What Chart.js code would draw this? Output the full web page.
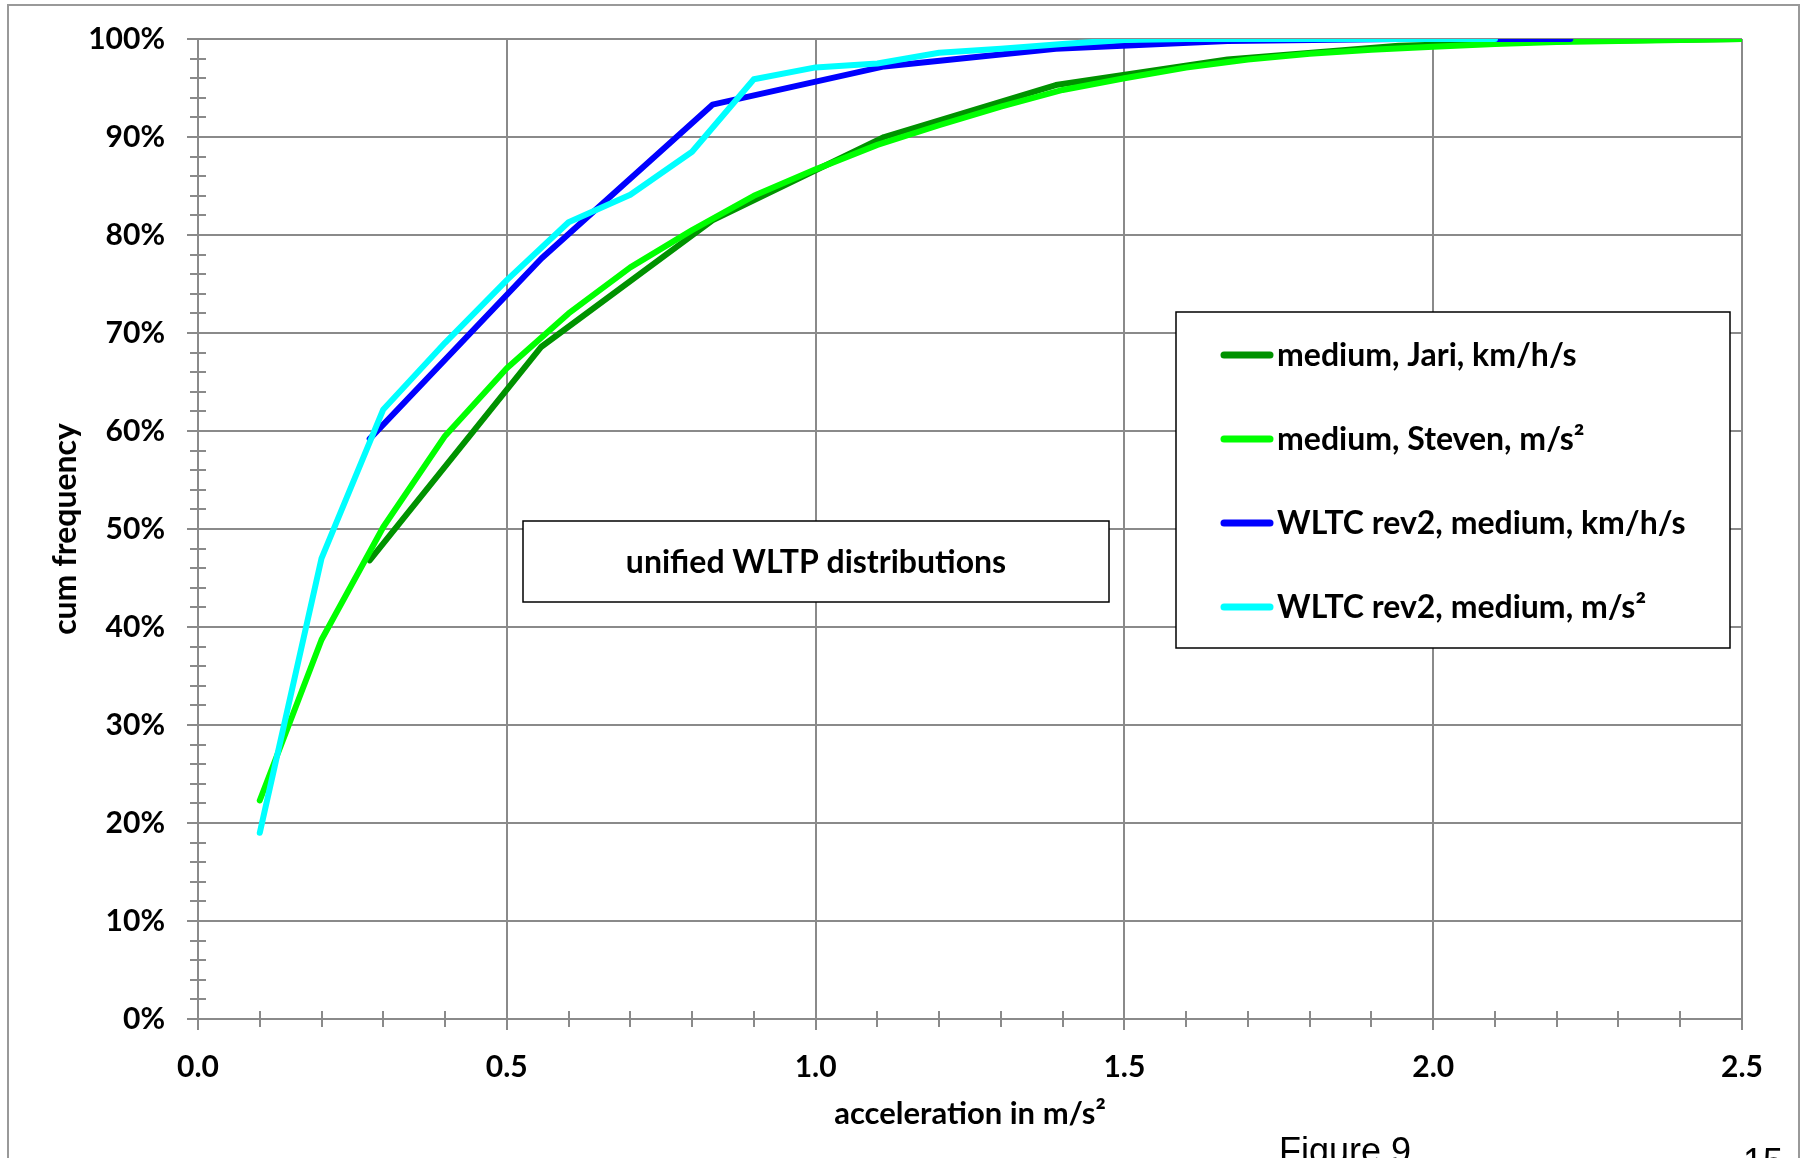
<!DOCTYPE html>
<html>
<head>
<meta charset="utf-8">
<title>unified WLTP distributions</title>
<script src="https://cdn.jsdelivr.net/npm/chart.js@4.4.0/dist/chart.umd.min.js"></script>
<style>
    html, body { margin: 0; padding: 0; background: #fff; overflow: hidden; }
    #wrap { position: relative; width: 1805px; height: 1158px; }
</style>
</head>
<body>
<div id="wrap"><canvas id="cumfreq" width="1805" height="1158"></canvas></div>
<script>
// x values in m/s2; the km/h/s series sit on multiples of 1 km/h/s
var kmhX = [0.278, 0.556, 0.833, 1.111, 1.389, 1.667, 1.944, 2.222, 2.5];
var msX = [0.1, 0.2, 0.3, 0.4, 0.5, 0.6, 0.7, 0.8, 0.9, 1.0, 1.1, 1.2, 1.3, 1.4, 1.5, 1.6, 1.7, 1.8, 1.9, 2.0, 2.1, 2.2, 2.3, 2.4, 2.5];

// cum frequency in %
var jariKmh = [46.8, 68.6, 81.5, 90.0, 95.3, 97.9, 99.3, 99.8, 100];
var stevenMs = [22.3, 38.7, 50.2, 59.5, 66.4, 72.0, 76.7, 80.5, 84.0, 86.7, 89.2, 91.2, 93.1, 94.8, 96.0, 97.1, 97.9, 98.5, 98.9, 99.2, 99.5, 99.7, 99.8, 99.9, 100];
var wltcKmh = [59.2, 77.6, 93.3, 97.2, 99.0, 99.8, 100, 100];
var wltcMs = [19.0, 47.0, 62.2, 69.0, 75.4, 81.3, 84.1, 88.5, 95.9, 97.1, 97.5, 98.6, 99.0, 99.5, 99.9, 100, 100, 100, 100, 100, 100];

var seriesLabels = ['medium, Jari, km/h/s', 'medium, Steven, m/s\u00B2', 'WLTC rev2, medium, km/h/s', 'WLTC rev2, medium, m/s\u00B2'];
var seriesColors = ['#009200', '#00ff00', '#0000ff', '#00ffff'];

var xTicks = [0, 0.5, 1.0, 1.5, 2.0, 2.5];
var boxTitle = 'unified WLTP distributions';

var GRID = '#8a8a8a';
var FONT = 'Lato';

function pairs(xs, ys) {
    return ys.map(function (v, i) { return { x: xs[i], y: v }; });
}

function lineSet(i, data, order) {
    return {
        label: seriesLabels[i],
        data: data,
        borderColor: seriesColors[i],
        backgroundColor: seriesColors[i],
        borderWidth: 6,
        borderCapStyle: 'round',
        borderJoinStyle: 'round',
        pointRadius: 0,
        tension: 0,
        fill: false,
        order: order
    };
}

// minor tick marks crossing the axes, like the excel original
var minorTicks = {
    id: 'minorTicks',
    beforeDatasetsDraw: function (chart) {
        var ctx = chart.ctx, a = chart.chartArea, sx = chart.scales.x, sy = chart.scales.y;
        ctx.save();
        ctx.strokeStyle = GRID;
        ctx.lineWidth = 2;
        ctx.beginPath();
        for (var i = 0; i <= 50; i++) {
            var py = Math.round(sy.getPixelForValue(i * 2));
            if (i % 5 === 0) { ctx.moveTo(a.left - 11, py); ctx.lineTo(a.left, py); }
            else { ctx.moveTo(a.left - 8, py); ctx.lineTo(a.left + 8, py); }
        }
        for (var j = 0; j <= 25; j++) {
            var px = Math.round(sx.getPixelForValue(j / 10));
            if (j % 5 === 0) { ctx.moveTo(px, a.bottom); ctx.lineTo(px, a.bottom + 11); }
            else { ctx.moveTo(px, a.bottom - 8); ctx.lineTo(px, a.bottom + 8); }
        }
        ctx.stroke();
        ctx.restore();
    }
};

// legend box, title box, page border and caption
var decor = {
    id: 'decor',
    afterDraw: function (chart) {
        var ctx = chart.ctx;
        ctx.save();

        // title box
        ctx.fillStyle = '#fff';
        ctx.fillRect(523, 521, 586, 81);
        ctx.strokeStyle = '#000';
        ctx.lineWidth = 1.5;
        ctx.strokeRect(523, 521, 586, 81);
        ctx.fillStyle = '#000';
        ctx.font = 'bold 32px ' + FONT;
        ctx.textAlign = 'center';
        ctx.textBaseline = 'middle';
        ctx.fillText(boxTitle, 816, 563);

        // legend
        ctx.fillStyle = '#fff';
        ctx.fillRect(1176, 312, 554, 336);
        ctx.strokeRect(1176, 312, 554, 336);
        ctx.textAlign = 'left';
        ctx.font = 'bold 32px ' + FONT;
        chart.data.datasets.forEach(function (ds, i) {
            var ly = 355 + i * 84;
            ctx.strokeStyle = ds.borderColor;
            ctx.lineWidth = 7;
            ctx.lineCap = 'round';
            ctx.beginPath();
            ctx.moveTo(1224, ly);
            ctx.lineTo(1270, ly);
            ctx.stroke();
            ctx.fillStyle = '#000';
            ctx.fillText(ds.label, 1277, ly + 1);
        });

        // page frame
        ctx.strokeStyle = '#999';
        ctx.lineWidth = 2;
        ctx.strokeRect(8, 5, 1791, 1200);

        // caption, cut off by the page edge
        ctx.fillStyle = '#000';
        ctx.textBaseline = 'alphabetic';
        ctx.font = '36px "Liberation Sans"';
        ctx.fillText('Figure 9', 1279, 1163);
        ctx.fillText('15', 1743, 1174);
        ctx.restore();
    }
};

var ctxl = document.getElementById('cumfreq');
var myLineChart = new Chart(ctxl, {
    type: 'line',
    data: {
        datasets: [
            lineSet(0, pairs(kmhX, jariKmh), 4),
            lineSet(1, pairs(msX, stevenMs), 3),
            lineSet(2, pairs(kmhX, wltcKmh), 2),
            lineSet(3, pairs(msX, wltcMs), 1)
        ]
    },
    options: {
        responsive: false,
        animation: false,
        devicePixelRatio: 1,
        layout: { padding: { left: 0, top: 39, right: 63, bottom: 0 } },
        plugins: {
            legend: { display: false },
            tooltip: { enabled: false }
        },
        scales: {
            x: {
                type: 'linear',
                min: 0,
                max: 2.5,
                afterFit: function (s) { s.height = 139; },
                afterBuildTicks: function (s) { s.ticks = xTicks.map(function (v) { return { value: v }; }); },
                ticks: {
                    color: '#000',
                    padding: 30,
                    maxRotation: 0,
                    font: { family: FONT, size: 30, weight: 'bold' },
                    callback: function (v) { return Number(v).toFixed(1); }
                },
                grid: { color: GRID, lineWidth: 2, drawTicks: false },
                border: { color: GRID, width: 2 },
                title: {
                    display: true,
                    text: 'acceleration in m/s\u00B2',
                    color: '#000',
                    font: { family: FONT, size: 31, weight: 'bold' },
                    padding: { top: 0, bottom: 25 }
                }
            },
            y: {
                type: 'linear',
                min: 0,
                max: 100,
                afterFit: function (s) {
                    s.width = 198;
                    // the label padding must not push the plot top down
                    s.paddingTop = 0;
                    s.paddingBottom = 0;
                },
                ticks: {
                    stepSize: 10,
                    color: '#000',
                    padding: 33,
                    font: { family: FONT, size: 30, weight: 'bold' },
                    callback: function (v) { return v + '%'; }
                },
                grid: { color: GRID, lineWidth: 2, drawTicks: false },
                border: { color: GRID, width: 2 },
                title: {
                    display: true,
                    text: 'cum frequency',
                    color: '#000',
                    font: { family: FONT, size: 32, weight: 'bold' },
                    padding: { top: 46, bottom: 0 }
                }
            }
        }
    },
    plugins: [minorTicks, decor]
});
</script>
</body>
</html>
